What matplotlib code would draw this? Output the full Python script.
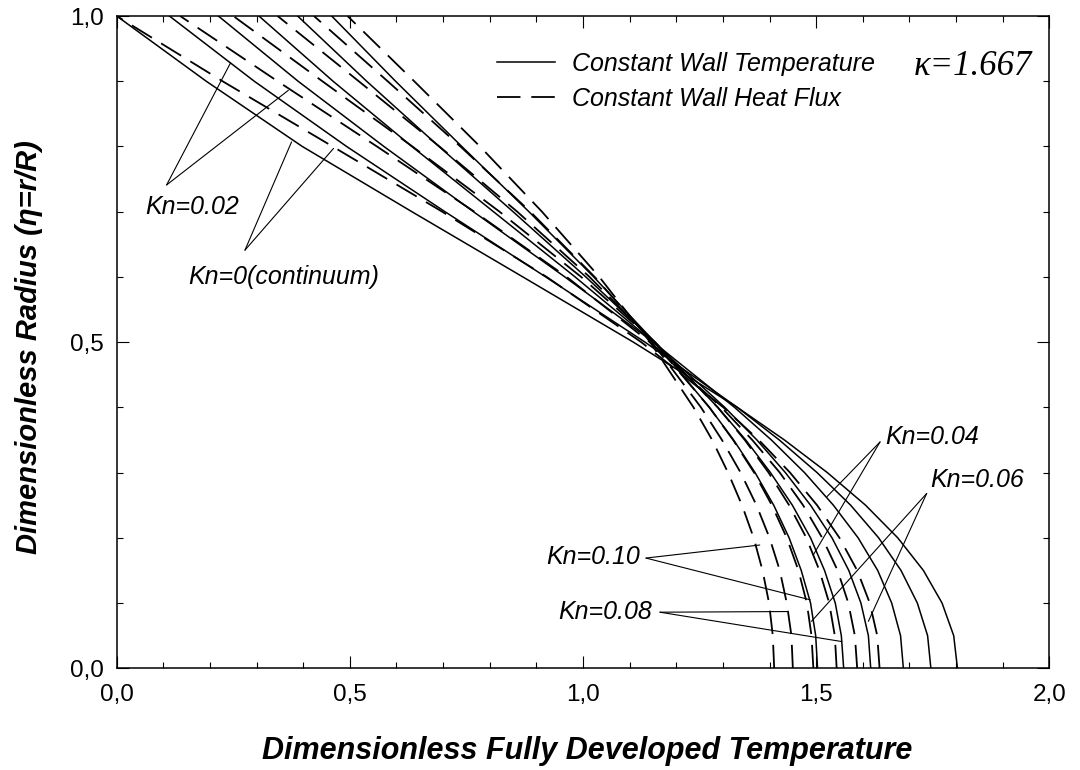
import matplotlib
matplotlib.use("Agg")
import matplotlib.pyplot as plt
from matplotlib.ticker import MultipleLocator, FuncFormatter
from matplotlib.lines import Line2D

# dimensionless radius (eta = r/R)
eta = [0.0, 0.05, 0.1, 0.15, 0.2, 0.25, 0.3, 0.35, 0.4, 0.5, 0.6, 0.7, 0.8, 0.9, 1.0]

# constant wall temperature
cwt_kn000 = [1.803, 1.795, 1.770, 1.730, 1.675, 1.606, 1.524, 1.432, 1.331, 1.108, 0.871, 0.633, 0.398, 0.192, 0.000]
cwt_kn002 = [1.746, 1.739, 1.717, 1.682, 1.634, 1.574, 1.502, 1.421, 1.331, 1.133, 0.920, 0.704, 0.493, 0.295, 0.113]
cwt_kn004 = [1.687, 1.681, 1.662, 1.632, 1.590, 1.537, 1.475, 1.404, 1.325, 1.151, 0.961, 0.765, 0.573, 0.389, 0.218]
cwt_kn006 = [1.617, 1.612, 1.596, 1.570, 1.534, 1.488, 1.434, 1.373, 1.304, 1.151, 0.983, 0.808, 0.633, 0.464, 0.305]
cwt_kn008 = [1.559, 1.554, 1.541, 1.518, 1.488, 1.449, 1.402, 1.349, 1.289, 1.155, 1.006, 0.850, 0.691, 0.536, 0.388]
cwt_kn010 = [1.503, 1.499, 1.488, 1.468, 1.442, 1.409, 1.369, 1.323, 1.271, 1.154, 1.023, 0.884, 0.740, 0.598, 0.461]

# constant wall heat flux
chf_kn000 = [1.636, 1.631, 1.615, 1.588, 1.550, 1.502, 1.444, 1.377, 1.301, 1.125, 0.922, 0.698, 0.463, 0.227, 0.000]
chf_kn002 = [1.588, 1.583, 1.569, 1.546, 1.513, 1.472, 1.422, 1.363, 1.297, 1.143, 0.965, 0.767, 0.558, 0.345, 0.136]
chf_kn004 = [1.544, 1.540, 1.528, 1.507, 1.479, 1.442, 1.398, 1.347, 1.289, 1.154, 0.996, 0.821, 0.634, 0.441, 0.250]
chf_kn006 = [1.494, 1.490, 1.480, 1.462, 1.437, 1.405, 1.367, 1.322, 1.271, 1.152, 1.014, 0.859, 0.692, 0.519, 0.345]
chf_kn008 = [1.450, 1.447, 1.437, 1.422, 1.400, 1.372, 1.338, 1.298, 1.253, 1.148, 1.025, 0.887, 0.737, 0.581, 0.423]
chf_kn010 = [1.410, 1.407, 1.399, 1.385, 1.366, 1.341, 1.311, 1.277, 1.237, 1.144, 1.035, 0.912, 0.779, 0.638, 0.495]

cwt_curves = [cwt_kn000, cwt_kn002, cwt_kn004, cwt_kn006, cwt_kn008, cwt_kn010]
chf_curves = [chf_kn000, chf_kn002, chf_kn004, chf_kn006, chf_kn008, chf_kn010]

# label text, text anchor, pointer origin, pointer targets (data coords)
labels = [
    ("Kn=0.02", (0.061, 0.707), "left", (0.107, 0.741), [(0.244, 0.928), (0.368, 0.886)]),
    ("Kn=0(continuum)", (0.153, 0.600), "left", (0.275, 0.641), [(0.375, 0.807), (0.465, 0.797)]),
    ("Kn=0.04", (1.648, 0.354), "left", (1.637, 0.347), [(1.523, 0.263), (1.494, 0.174)]),
    ("Kn=0.06", (1.744, 0.289), "left", (1.737, 0.268), [(1.490, 0.072), (1.612, 0.072)]),
    ("Kn=0.10", (1.122, 0.171), "right", (1.135, 0.169), [(1.379, 0.189), (1.487, 0.105)]),
    ("Kn=0.08", (1.148, 0.086), "right", (1.165, 0.086), [(1.438, 0.087), (1.555, 0.041)]),
]

SANS = "Liberation Sans"
DASH = (13, 6)

fig = plt.figure(figsize=(10.8, 7.7), dpi=100)
ax = fig.add_axes([0.10806, 0.13208, 0.86352, 0.84714])

for vals in cwt_curves:
    ax.plot(vals, eta, color="black", lw=1.1)
for vals in chf_curves:
    ax.plot(vals, eta, color="black", lw=1.3, dashes=DASH)

ax.set_xlim(0, 2)
ax.set_ylim(0, 1)
ax.xaxis.set_major_locator(MultipleLocator(0.5))
ax.xaxis.set_minor_locator(MultipleLocator(0.1))
ax.yaxis.set_major_locator(MultipleLocator(0.5))
ax.yaxis.set_minor_locator(MultipleLocator(0.1))
comma = FuncFormatter(lambda v, p: f"{v:.1f}".replace(".", ","))
ax.xaxis.set_major_formatter(comma)
ax.yaxis.set_major_formatter(comma)
ax.tick_params(which="both", direction="in", top=True, right=True, width=0.8)
ax.tick_params(which="major", length=8.6)
ax.tick_params(which="minor", length=4.1)
ax.tick_params(axis="x", pad=11)
ax.tick_params(axis="y", pad=9)
for lab in ax.get_xticklabels() + ax.get_yticklabels():
    lab.set_fontfamily(SANS)
    lab.set_fontsize(17.5)
for sp in ax.spines.values():
    sp.set_linewidth(1.1)

ax.set_xlabel("Dimensionless Fully Developed Temperature", fontfamily=SANS,
              fontsize=22, fontweight="bold", style="italic")
ax.xaxis.set_label_coords(0.505, -0.104)
ax.set_ylabel("Dimensionless Radius (\u03b7=r/R)", fontfamily=SANS,
              fontsize=21, fontweight="bold", style="italic")
ax.yaxis.set_label_coords(-0.079, 0.493)

for text, pos, ha, origin, targets in labels:
    ax.text(pos[0], pos[1], text, ha=ha, va="center", fontfamily=SANS,
            fontsize=18, style="italic")
    for tgt in targets:
        ax.annotate("", xy=tgt, xytext=origin,
                    arrowprops=dict(arrowstyle="-", lw=0.8, color="black",
                                    shrinkA=0, shrinkB=0))

handles = [Line2D([], [], color="black", lw=1.1),
           Line2D([], [], color="black", lw=1.3, dashes=DASH)]
ax.legend(handles, ["Constant Wall Temperature", "Constant Wall Heat Flux"],
          loc="upper left", bbox_to_anchor=(0.4078, 0.945), frameon=False,
          borderpad=0, borderaxespad=0, handlelength=2.3, handletextpad=0.7,
          labelspacing=0.43, prop=dict(family=SANS, style="italic", size=18))

ax.text(1.963, 0.910, "\u03ba=1.667", ha="right", va="baseline",
        fontfamily="Liberation Serif", style="italic", fontsize=25)

fig.savefig("out.png", dpi=100)
